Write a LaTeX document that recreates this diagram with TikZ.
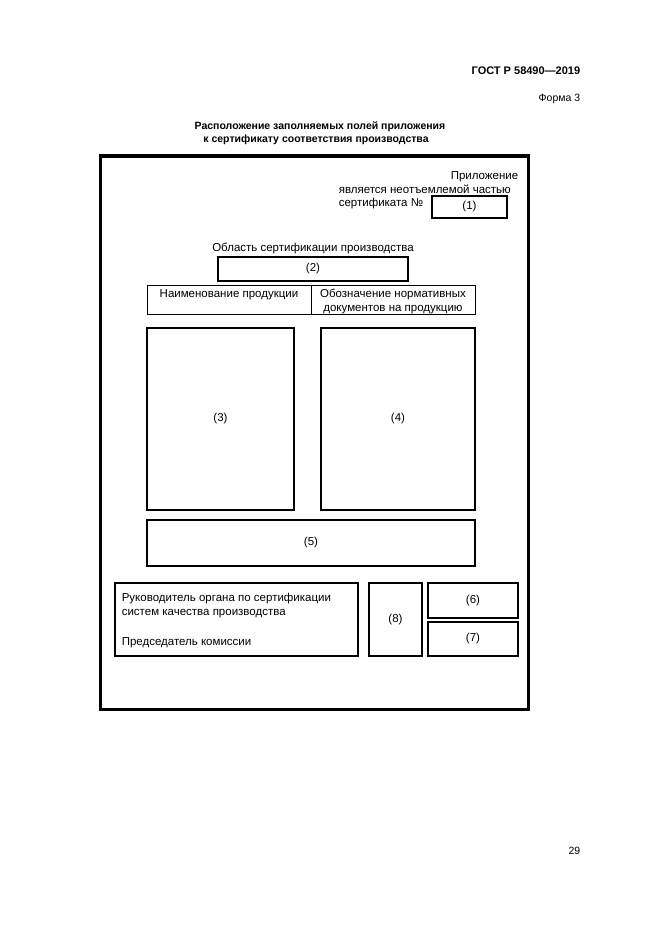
\documentclass[tikz,border=0pt]{standalone}
\usepackage{fontspec}
\setmainfont{Liberation Sans}
\usetikzlibrary{positioning}

\begin{document}
\begin{tikzpicture}[x=1pt,y=-1pt,line width=1.6pt,
    field/.style={draw,inner sep=0pt,font=\fontsize{11.5}{13}\selectfont},
    txt/.style={inner sep=0pt,font=\fontsize{11.5}{13}\selectfont}]
  \useasboundingbox[fill=white] (0,0) rectangle (661,935);
  % page head
  \node[inner sep=0pt,anchor=base east,font=\fontsize{11}{13}\bfseries] (gost) at (581,74) {ГОСТ Р 58490—2019};
  \node[inner sep=0pt,anchor=base east,font=\fontsize{10.5}{12}\selectfont] (forma) at (581,101) {Форма 3};
  \node[inner sep=0pt,anchor=base,font=\fontsize{10.5}{13}\bfseries] (title1) at (320,129) {Расположение заполняемых полей приложения};
  \node[inner sep=0pt,anchor=base,font=\fontsize{10.5}{13}\bfseries] (title2) at (316,142) {к сертификату соответствия производства};
  % frame
  \draw[line width=3.5pt] (100.5,156) rectangle (528.5,709.5);
  % annex number
  \node[txt,anchor=base east] (pril) at (519,179.5) {Приложение};
  \node[txt,anchor=base west] (yavl) at (338,193) {является неотъемлемой частью};
  \node[txt,anchor=base west] (sert) at (338,206.5) {сертификата №};
  \node[field,minimum width=75pt,minimum height=22pt] (f1) at (469.5,207) {(1)};
  % scope
  \node[txt,anchor=base] (obl) at (313,251) {Область сертификации производства};
  \node[field,minimum width=190pt,minimum height=24pt] (f2) at (313,269) {(2)};
  % table head
  \node[draw,line width=1pt,minimum width=164pt,minimum height=29pt,inner sep=0pt] (hl) at (229,299.5) {};
  \node[draw,line width=1pt,minimum width=164pt,minimum height=29pt,inner sep=0pt] (hr) at (393,299.5) {};
  \node[txt,anchor=base] (naim) at (229,297) {Наименование продукции};
  \node[txt,anchor=base] (oboz1) at (393,297) {Обозначение нормативных};
  \node[txt,anchor=base] (oboz2) at (393,311) {документов на продукцию};
  % table body
  \node[field,minimum width=147pt,minimum height=182pt] (f3) at (220.5,419) {(3)};
  \node[field,minimum width=154pt,minimum height=182pt] (f4) at (398,419) {(4)};
  \node[field,minimum width=328pt,minimum height=46pt] (f5) at (311,543) {(5)};
  % signatures
  \node[field,line width=1.4pt,minimum width=243pt,minimum height=73pt] (sign) at (236.5,619.5) {};
  \node[txt,anchor=base west] (ruk1) at (121,601) {Руководитель органа по сертификации};
  \node[txt,anchor=base west] (ruk2) at (121,615) {систем качества производства};
  \node[txt,anchor=base west] (pred) at (121,645) {Председатель комиссии};
  \node[field,line width=1.4pt,minimum width=53pt,minimum height=73pt] (f8) at (395.5,619.5) {(8)};
  \node[field,line width=1.4pt,minimum width=90pt,minimum height=35pt] (f6) at (473,600.5) {(6)};
  \node[field,line width=1.4pt,minimum width=90pt,minimum height=34pt] (f7) at (473,639) {(7)};
  % page number
  \node[inner sep=0pt,anchor=base east,font=\fontsize{10.5}{12}\selectfont] (page) at (581,854) {29};
\end{tikzpicture}
\end{document}
